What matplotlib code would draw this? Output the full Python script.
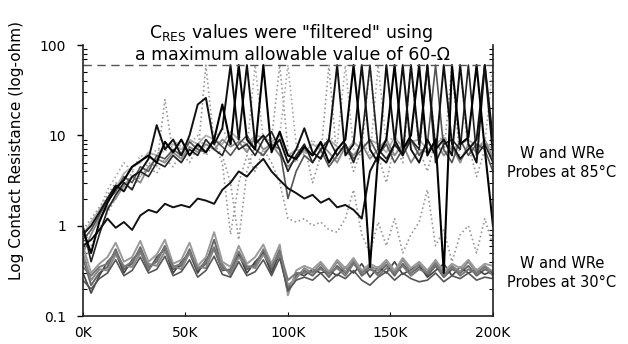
import numpy as np
import matplotlib.pyplot as plt
from matplotlib.ticker import LogLocator, NullFormatter

# cycle count in thousands, one sample every 4K
cycles_k = np.arange(0, 201, 4)

# probes at 85C (upper bundle)
hot_1 = [0.9, 0.5, 1.1, 1.8, 2.6, 3.2, 4.5, 5.2, 6.0, 5.0, 8.5, 6.5, 9.0, 6.0, 8.0, 6.5, 9.0, 22, 8.0, 60,
         9.0, 7.0, 60, 6.5, 11, 6.0, 5.5, 7.5, 6.0, 8.5, 5.0, 7.0, 9.0, 60, 8.0, 0.35, 6.0, 9.0, 60, 7.0,
         10, 60, 6.0, 9.0, 0.30, 60, 8.0, 9.5, 60, 7.0, 1.0]
hot_2 = [0.6, 0.7, 0.9, 1.2, 0.95, 1.1, 0.9, 1.3, 1.5, 1.4, 1.75, 1.6, 1.7, 1.6, 2.0, 1.9, 1.75, 2.5, 3.0, 4.0,
         3.5, 4.5, 5.5, 4.0, 3.2, 2.6, 2.3, 2.0, 2.2, 1.8, 2.0, 1.6, 1.7, 1.5, 1.2, 4.0, 6.0, 5.0, 8.0, 60,
         7.0, 5.0, 9.0, 6.0, 60, 8.0, 5.5, 7.0, 9.0, 60, 6.0]
hot_3 = [0.8, 1.0, 1.4, 2.0, 2.8, 2.4, 3.5, 4.0, 5.5, 13, 7.0, 9.0, 6.0, 10, 22, 26, 8.0, 12, 60, 9.0,
         60, 8.0, 10, 7.0, 9.0, 5.0, 7.0, 12, 6.5, 5.5, 9.0, 60, 6.0, 8.0, 60, 7.0, 5.0, 60, 9.0, 6.0,
         60, 8.0, 60, 7.0, 9.0, 6.0, 60, 8.0, 5.0, 60, 9.0]
hot_4 = [1.0, 0.4, 0.8, 1.5, 2.2, 3.0, 2.5, 4.0, 3.5, 5.0, 4.5, 6.0, 5.0, 7.0, 6.0, 9.0, 7.0, 6.0, 10, 7.0,
         8.0, 6.0, 9.0, 11, 7.0, 4.0, 6.0, 8.0, 5.0, 7.0, 9.0, 6.0, 8.0, 5.0, 9.0, 60, 7.0, 5.5, 8.0, 6.0,
         9.0, 7.0, 60, 5.0, 8.0, 9.0, 7.0, 60, 6.0, 8.0, 5.0]
hot_5 = [0.7, 0.9, 1.3, 1.9, 2.4, 3.5, 3.0, 4.5, 4.0, 6.0, 5.5, 7.0, 6.0, 8.5, 7.0, 6.5, 9.0, 7.5, 6.0, 8.0,
         10, 7.0, 6.0, 8.0, 7.0, 2.0, 4.0, 6.0, 5.0, 7.0, 4.5, 6.0, 8.0, 5.5, 7.0, 9.0, 6.0, 8.0, 5.0, 7.0,
         9.0, 6.0, 8.0, 60, 7.0, 5.0, 9.0, 6.0, 8.0, 7.0, 4.0]
hot_6 = [0.5, 0.8, 1.2, 1.6, 2.0, 2.8, 3.5, 3.0, 4.5, 5.5, 5.0, 6.5, 5.5, 7.5, 6.5, 8.0, 7.0, 9.0, 7.5, 8.5,
         6.5, 9.5, 7.0, 8.0, 6.0, 4.5, 5.5, 7.0, 6.0, 8.0, 6.5, 5.0, 7.5, 6.0, 8.0, 5.5, 7.0, 9.0, 6.0, 8.0,
         5.0, 7.0, 6.5, 8.5, 6.0, 7.5, 5.0, 8.0, 6.5, 9.0, 5.5]
hot_7 = [0.9, 1.2, 1.6, 2.2, 3.0, 2.5, 4.0, 3.5, 5.0, 4.5, 25, 6.0, 5.0, 7.0, 6.0, 60, 8.0, 6.0, 3.0, 0.7,
         4.0, 8.0, 6.0, 9.0, 60, 7.0, 5.0, 8.0, 3.0, 6.0, 60, 5.0, 8.0, 4.0, 7.0, 60, 6.0, 3.0, 8.0, 5.0,
         60, 7.0, 4.0, 9.0, 6.0, 60, 5.0, 8.0, 3.5, 7.0, 6.0]
hot_8 = [0.4, 0.6, 0.9, 1.4, 2.0, 3.0, 2.6, 3.5, 4.5, 3.8, 5.5, 4.5, 6.5, 5.0, 7.5, 6.0, 8.0, 5.0, 0.8, 3.0,
         6.0, 4.0, 7.0, 5.0, 3.0, 1.2, 1.1, 1.2, 1.0, 1.1, 0.9, 0.85, 1.2, 2.5, 0.8, 0.5, 1.1, 0.6, 1.2, 0.5,
         0.8, 1.1, 2.5, 0.6, 0.9, 0.4, 0.8, 1.0, 0.5, 1.2, 0.6]
hot_9 = [0.6, 0.9, 1.5, 2.5, 3.5, 5.0, 4.0, 6.0, 5.5, 7.0, 6.5, 9.0, 7.5, 8.0, 10, 7.0, 9.0, 12, 8.0, 10,
         7.0, 60, 9.0, 8.0, 10, 60, 8.0, 6.0, 9.0, 7.0, 10, 8.0, 60, 7.0, 9.0, 6.0, 60, 8.0, 10, 7.0,
         9.0, 6.0, 60, 8.0, 10, 7.0, 60, 6.0, 9.0, 8.0, 60]
hot_10 = [0.8, 1.1, 1.5, 2.0, 2.6, 3.8, 4.5, 5.0, 6.5, 6.0, 7.5, 8.0, 7.0, 9.0, 8.0, 10, 9.0, 8.0, 11, 9.0,
          8.0, 10, 9.5, 8.5, 10, 6.0, 7.0, 6.5, 8.0, 7.0, 9.0, 7.5, 6.5, 8.5, 7.0, 9.0, 8.0, 6.5, 9.5, 7.5,
          8.5, 9.0, 7.0, 8.0, 9.5, 7.0, 8.0, 9.0, 7.5, 8.5, 7.0]

# probes at 30C (lower bundle)
cold_1 = [0.45, 0.22, 0.30, 0.35, 0.55, 0.33, 0.38, 0.58, 0.35, 0.40, 0.60, 0.33, 0.36, 0.55, 0.32, 0.38, 0.70,
          0.35, 0.30, 0.50, 0.33, 0.38, 0.52, 0.33, 0.55, 0.20, 0.28, 0.32, 0.28, 0.35, 0.27, 0.36, 0.30, 0.40,
          0.28, 0.33, 0.30, 0.37, 0.28, 0.38, 0.30, 0.35, 0.28, 0.36, 0.27, 0.33, 0.30, 0.36, 0.28, 0.33, 0.30]
cold_2 = [0.30, 0.18, 0.28, 0.40, 0.50, 0.30, 0.42, 0.52, 0.32, 0.45, 0.55, 0.30, 0.40, 0.50, 0.30, 0.42, 0.55,
          0.32, 0.33, 0.48, 0.30, 0.40, 0.50, 0.30, 0.50, 0.18, 0.30, 0.28, 0.33, 0.30, 0.32, 0.28, 0.35, 0.30,
          0.38, 0.27, 0.35, 0.30, 0.40, 0.29, 0.33, 0.37, 0.27, 0.32, 0.38, 0.28, 0.35, 0.30, 0.33, 0.29, 0.32]
cold_3 = [0.50, 0.25, 0.33, 0.32, 0.48, 0.36, 0.35, 0.50, 0.38, 0.36, 0.52, 0.36, 0.33, 0.50, 0.35, 0.34, 0.56,
          0.38, 0.28, 0.45, 0.36, 0.34, 0.48, 0.36, 0.50, 0.22, 0.26, 0.34, 0.30, 0.38, 0.29, 0.40, 0.31, 0.42,
          0.30, 0.36, 0.32, 0.40, 0.30, 0.42, 0.31, 0.38, 0.30, 0.40, 0.29, 0.36, 0.31, 0.40, 0.30, 0.36, 0.31]
cold_4 = [0.60, 0.30, 0.38, 0.45, 0.65, 0.40, 0.45, 0.68, 0.40, 0.48, 0.70, 0.38, 0.42, 0.65, 0.36, 0.45, 0.85,
          0.40, 0.35, 0.60, 0.38, 0.45, 0.62, 0.38, 0.62, 0.17, 0.32, 0.36, 0.33, 0.40, 0.31, 0.42, 0.34, 0.44,
          0.32, 0.38, 0.34, 0.42, 0.32, 0.44, 0.34, 0.40, 0.32, 0.42, 0.31, 0.38, 0.34, 0.42, 0.32, 0.38, 0.36]
cold_5 = [0.25, 0.20, 0.26, 0.30, 0.42, 0.28, 0.32, 0.45, 0.30, 0.33, 0.46, 0.28, 0.31, 0.42, 0.27, 0.32, 0.46,
          0.29, 0.27, 0.40, 0.28, 0.31, 0.42, 0.28, 0.44, 0.19, 0.25, 0.27, 0.25, 0.30, 0.24, 0.29, 0.26, 0.32,
          0.25, 0.22, 0.27, 0.31, 0.25, 0.30, 0.26, 0.24, 0.25, 0.30, 0.24, 0.28, 0.26, 0.30, 0.25, 0.27, 0.26]
cold_6 = [0.35, 0.28, 0.35, 0.38, 0.52, 0.35, 0.40, 0.55, 0.33, 0.42, 0.58, 0.35, 0.38, 0.52, 0.33, 0.40, 0.58,
          0.33, 0.32, 0.52, 0.35, 0.36, 0.55, 0.35, 0.52, 0.25, 0.30, 0.30, 0.31, 0.33, 0.30, 0.34, 0.28, 0.38,
          0.30, 0.35, 0.28, 0.34, 0.30, 0.36, 0.28, 0.33, 0.30, 0.38, 0.28, 0.35, 0.28, 0.33, 0.30, 0.35, 0.28]

x_ticks = [0, 50, 100, 150, 200]
x_labels = ['0K', '50K', '100K', '150K', '200K']
y_ticks = [0.1, 1, 10, 100]
y_labels = ['0.1', '1', '10', '100']
cutoff = 60

fig = plt.figure(figsize=(6.28, 3.44), dpi=100)
ax = fig.add_axes([0.132, 0.081, 0.653, 0.788])

# 30C bundle, drawn first so the 85C lines sit on top
cold_styles = [('#666666', 1.4), ('#444444', 1.2), ('#888888', 1.4),
               ('#9a9a9a', 1.4), ('#555555', 1.2), ('#777777', 1.4)]
for vals, (col, lw) in zip([cold_1, cold_2, cold_3, cold_4, cold_5, cold_6], cold_styles):
    ax.plot(cycles_k, vals, color=col, lw=lw)

ax.plot(cycles_k, hot_10, color='#b0b0b0', lw=1.3)
ax.plot(cycles_k, hot_6, color='#888888', lw=1.3)
ax.plot(cycles_k, hot_7, color='#999999', lw=1.2, ls=':')
ax.plot(cycles_k, hot_8, color='#999999', lw=1.2, ls=':')
ax.plot(cycles_k, hot_9, color='#aaaaaa', lw=1.2, ls=':')
ax.plot(cycles_k, hot_5, color='#555555', lw=1.2)
ax.plot(cycles_k, hot_4, color='#222222', lw=1.2)
ax.plot(cycles_k, hot_3, color='#111111', lw=1.4)
ax.plot(cycles_k, hot_2, color='#111111', lw=1.4)
ax.plot(cycles_k, hot_1, color='#000000', lw=1.5)

ax.axhline(cutoff, color='#555555', lw=1.0, ls=(0, (6, 4)))

ax.set_yscale('log')
ax.set_ylim(0.1, 100)
ax.set_xlim(0, 200)
ax.set_xticks(x_ticks)
ax.set_xticklabels(x_labels)
ax.set_yticks(y_ticks)
ax.set_yticklabels(y_labels)
ax.yaxis.set_minor_locator(LogLocator(base=10, subs=np.arange(2, 10)))
ax.yaxis.set_minor_formatter(NullFormatter())
ax.tick_params(axis='y', which='major', direction='out', length=4, width=1, labelsize=10, pad=8)
ax.tick_params(axis='y', which='minor', direction='in', length=3, width=0.8, right=True)
ax.tick_params(axis='x', which='major', direction='in', length=3, labelsize=10, pad=7)
ax.spines['top'].set_visible(False)
for side in ['left', 'bottom', 'right']:
    ax.spines[side].set_linewidth(1.2)
    ax.spines[side].set_color('#222222')

fig.text(0.463, 1 - 33 / 344, r'C$_{\mathregular{RES}}$ values were "filtered" using',
         ha='center', va='center', fontsize=12.5)
fig.text(0.465, 1 - 55 / 344, 'a maximum allowable value of 60-Ω',
         ha='center', va='center', fontsize=12.5)
fig.text(0.895, 1 - 163 / 344, 'W and WRe\nProbes at 85°C',
         ha='center', va='center', fontsize=10.5, linespacing=1.3)
fig.text(0.895, 1 - 273 / 344, 'W and WRe\nProbes at 30°C',
         ha='center', va='center', fontsize=10.5, linespacing=1.3)
fig.text(0.026, 1 - 150 / 344, 'Log Contact Resistance (log-ohm)',
         rotation=90, ha='center', va='center', fontsize=11)

fig.savefig('out.png', dpi=100)
